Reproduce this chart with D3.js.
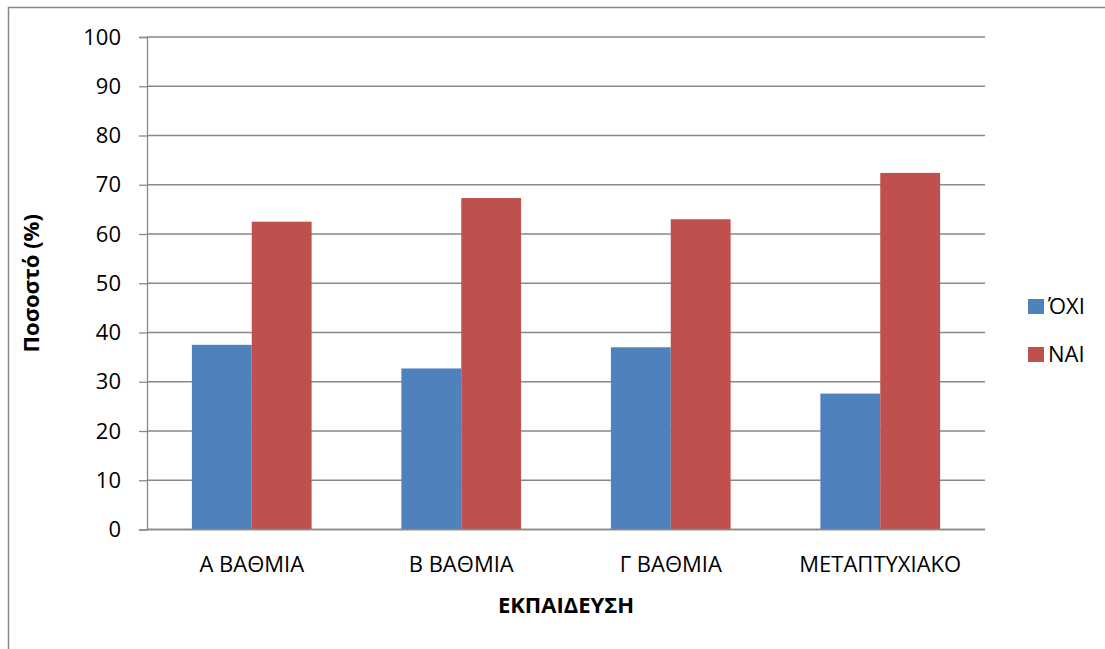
<!DOCTYPE html>
<html>
<head>
<meta charset="utf-8">
<script src="https://cdn.jsdelivr.net/npm/d3@7"></script>
<style>
  html, body { margin: 0; padding: 0; background: #fff; }
  text { font-family: "Open Sans", "Liberation Sans", sans-serif; fill: #000; }
</style>
</head>
<body>
<svg id="chart"></svg>
<script>
// Education level vs yes/no percentage

const categories = ['Α ΒΑΘΜΙΑ', 'Β ΒΑΘΜΙΑ', 'Γ ΒΑΘΜΙΑ', 'ΜΕΤΑΠΤΥΧΙΑΚΟ'];
const seriesNames = ['ΌΧΙ', 'ΝΑΙ'];
const oxiValues = [37.5, 32.7, 37.0, 27.6];
const naiValues = [62.5, 67.3, 63.0, 72.4];
const yTicks = [0, 10, 20, 30, 40, 50, 60, 70, 80, 90, 100];
const colors = ['#4F81BD', '#C0504D'];

const width = 1105, height = 649;
const margin = { top: 37, right: 120, bottom: 119.5, left: 147 };
const plotW = width - margin.left - margin.right;
const plotH = height - margin.top - margin.bottom;

const svg = d3.select('#chart')
  .attr('width', width)
  .attr('height', height);

// outer chart border (only top and left visible)
svg.append('rect')
  .attr('x', 8.5)
  .attr('y', 7.5)
  .attr('width', width + 20)
  .attr('height', height + 20)
  .attr('fill', 'none')
  .attr('stroke', '#888')
  .attr('stroke-width', 1.5);

const g = svg.append('g')
  .attr('transform', `translate(${margin.left},${margin.top})`);

const x0 = d3.scaleBand()
  .domain(categories)
  .range([0, plotW])
  .padding(0);

const x1 = d3.scaleBand()
  .domain(seriesNames)
  .range([0, x0.bandwidth()])
  .paddingInner(0)
  .paddingOuter(0.75);

const y = d3.scaleLinear()
  .domain([0, 100])
  .range([plotH, 0]);

// gridlines
g.append('g')
  .selectAll('line')
  .data(yTicks)
  .enter()
  .append('line')
  .attr('x1', 0)
  .attr('x2', plotW)
  .attr('y1', d => y(d))
  .attr('y2', d => y(d))
  .style('stroke', '#898989')
  .style('stroke-width', 1.3);

// y axis
const yAxis = d3.axisLeft(y)
  .tickValues(yTicks)
  .tickSize(8)
  .tickPadding(18);

const yg = g.append('g').call(yAxis);
yg.select('.domain').attr('stroke', '#898989').attr('stroke-width', 1.3);
yg.selectAll('.tick line').attr('stroke', '#898989').attr('stroke-width', 1.3);
yg.selectAll('.tick text')
  .style('font-size', '22px')
  .attr('fill', '#000');

// bars
const data = categories.map((c, i) => ({ cat: c, vals: [oxiValues[i], naiValues[i]] }));

const groups = g.selectAll('.cat')
  .data(data)
  .enter()
  .append('g')
  .attr('class', 'cat')
  .attr('transform', d => `translate(${x0(d.cat)},0)`);

groups.selectAll('rect')
  .data(d => d.vals.map((v, j) => ({ name: seriesNames[j], v, j })))
  .enter()
  .append('rect')
  .attr('x', d => x1(d.name))
  .attr('y', d => y(d.v))
  .attr('width', x1.bandwidth())
  .attr('height', d => plotH - y(d.v))
  .attr('fill', d => colors[d.j]);

// x axis line
g.append('line')
  .attr('x1', 0)
  .attr('x2', plotW)
  .attr('y1', plotH)
  .attr('y2', plotH)
  .style('stroke', '#898989')
  .style('stroke-width', 1.5);

// category labels
g.selectAll('.cat-label')
  .data(categories)
  .enter()
  .append('text')
  .attr('class', 'cat-label')
  .attr('x', d => x0(d) + x0.bandwidth() / 2)
  .attr('y', plotH + 42)
  .attr('text-anchor', 'middle')
  .style('font-size', '22px')
  .text(d => d);

// axis titles
svg.append('text')
  .attr('x', (margin.left + margin.left + plotW) / 2)
  .attr('y', 612.5)
  .attr('text-anchor', 'middle')
  .style('font-size', '22px')
  .style('font-weight', 'bold')
  .text('ΕΚΠΑΙΔΕΥΣΗ');

svg.append('text')
  .attr('transform', `translate(39,${margin.top + plotH / 2}) rotate(-90)`)
  .attr('text-anchor', 'middle')
  .style('font-size', '22px')
  .style('font-weight', 'bold')
  .text('Ποσοστό (%)');

// legend
const legend = svg.append('g')
  .attr('transform', 'translate(1028,299)');

const items = legend.selectAll('g')
  .data(seriesNames)
  .enter()
  .append('g')
  .attr('transform', (d, i) => `translate(0,${i * 48})`);

items.append('rect')
  .attr('width', 16)
  .attr('height', 15)
  .attr('fill', (d, i) => colors[i]);

items.append('text')
  .attr('x', 20)
  .attr('y', 15)
  .style('font-size', '22px')
  .text(d => d);
</script>
</body>
</html>
